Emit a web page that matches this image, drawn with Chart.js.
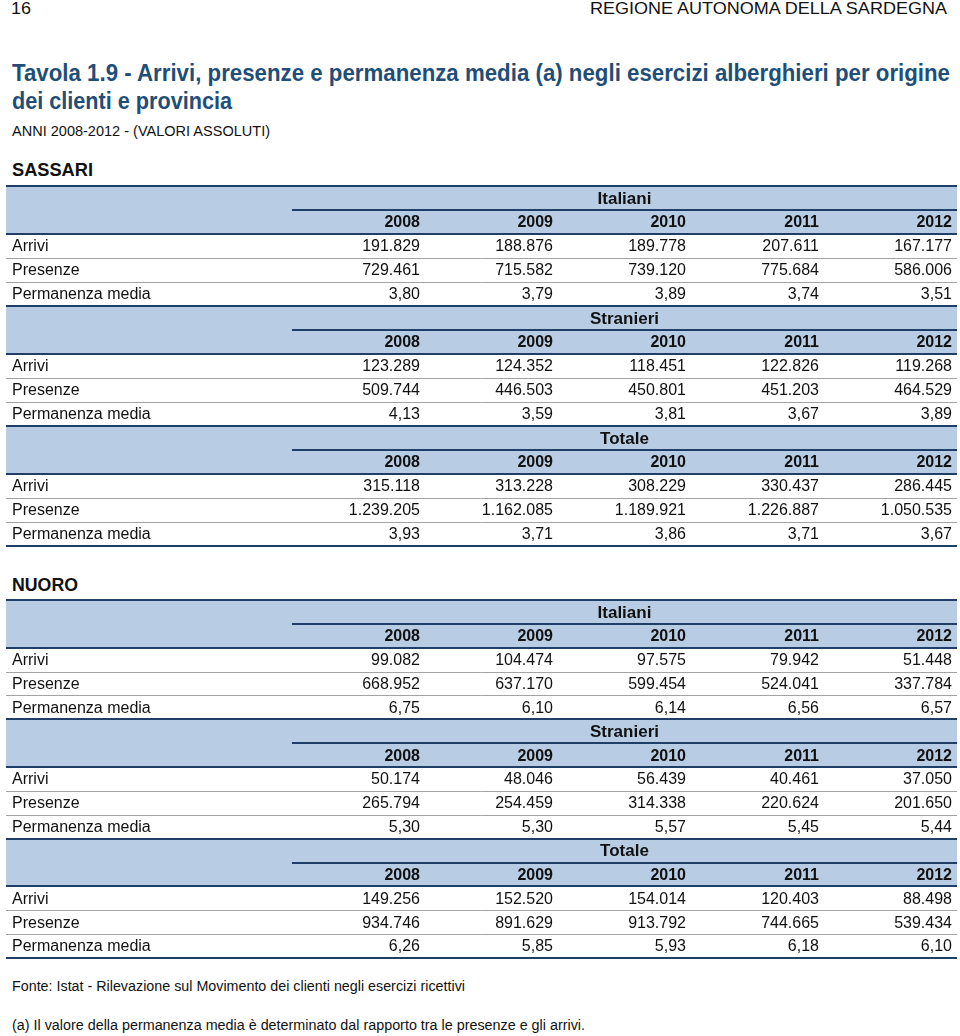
<!DOCTYPE html>
<html lang="it">
<head>
<meta charset="utf-8">
<title>Tavola 1.9 - Arrivi, presenze e permanenza media</title>
<script src="https://cdn.jsdelivr.net/npm/chart.js@4.4.1/dist/chart.umd.min.js"></script>
<style>
  body {
    margin: 0;
    width: 960px;
    height: 1036px;
    position: relative;
    background: #fff;
    color: #111;
    font-family: "Liberation Sans", Arial, sans-serif;
    overflow: hidden;
  }
  .t {
    position: absolute;
    white-space: nowrap;
    line-height: 1;
    transform-origin: 0 50%;
  }
  .dx { transform-origin: 100% 50%; }
  .titolo { color: #1f4e79; font-family: "Liberation Sans Narrow", "Liberation Sans", Arial, sans-serif; font-weight: bold; font-size: 23px; }
  .prov { font-weight: bold; font-size: 18px; }
  canvas { position: absolute; left: 4px; }
</style>
</head>
<body>

<span class="t" data-w="20" style="left:11px;top:0px;font-size:17px;">16</span>
<span class="t dx" data-w="357" style="right:13px;top:0px;font-size:17px;">REGIONE AUTONOMA DELLA SARDEGNA</span>

<span class="t titolo" data-w="938" style="left:12px;top:62px;">Tavola 1.9 - Arrivi, presenze e permanenza media (a) negli esercizi alberghieri per origine</span>
<span class="t titolo" data-w="220" style="left:12px;top:90px;">dei clienti e provincia</span>
<span class="t" data-w="258" style="left:12px;top:124px;font-size:14px;">ANNI 2008-2012 - (VALORI ASSOLUTI)</span>

<span class="t prov" data-w="81" style="left:12px;top:161px;">SASSARI</span>
<canvas id="sassari" width="955" height="364" style="top:184px;"></canvas>

<span class="t prov" data-w="66" style="left:12px;top:576px;">NUORO</span>
<canvas id="nuoro" width="955" height="362" style="top:598px;"></canvas>

<span class="t" data-w="453" style="left:12px;top:979px;font-size:14px;">Fonte: Istat - Rilevazione sul Movimento dei clienti negli esercizi ricettivi</span>
<span class="t" data-w="573" style="left:12px;top:1018px;font-size:14px;">(a) Il valore della permanenza media è determinato dal rapporto tra le presenze e gli arrivi.</span>

<script>
// ===== Dati =====
const anni = ["2008", "2009", "2010", "2011", "2012"];
const gruppi = ["Italiani", "Stranieri", "Totale"];
const voci = ["Arrivi", "Presenze", "Permanenza media"];

// righe: arrivi, presenze, permanenza media
const sassariItaliani = [
    [191829, 188876, 189778, 207611, 167177],
    [729461, 715582, 739120, 775684, 586006],
    [3.80, 3.79, 3.89, 3.74, 3.51]
];
const sassariStranieri = [
    [123289, 124352, 118451, 122826, 119268],
    [509744, 446503, 450801, 451203, 464529],
    [4.13, 3.59, 3.81, 3.67, 3.89]
];
const sassariTotale = [
    [315118, 313228, 308229, 330437, 286445],
    [1239205, 1162085, 1189921, 1226887, 1050535],
    [3.93, 3.71, 3.86, 3.71, 3.67]
];

const nuoroItaliani = [
    [99082, 104474, 97575, 79942, 51448],
    [668952, 637170, 599454, 524041, 337784],
    [6.75, 6.10, 6.14, 6.56, 6.57]
];
const nuoroStranieri = [
    [50174, 48046, 56439, 40461, 37050],
    [265794, 254459, 314338, 220624, 201650],
    [5.30, 5.30, 5.57, 5.45, 5.44]
];
const nuoroTotale = [
    [149256, 152520, 154014, 120403, 88498],
    [934746, 891629, 913792, 744665, 539434],
    [6.26, 5.85, 5.93, 6.18, 6.10]
];

// ===== Formattazione italiana =====
function fmtInt(n) {
    return String(n).replace(/\B(?=(\d{3})+(?!\d))/g, ".");
}
function fmtDec(n) {
    return n.toFixed(2).replace(".", ",");
}

const FONT = '"Liberation Sans", Arial, sans-serif';
const X_MIN = -2.15; // colonna delle voci, più larga
const RIGHE = 15;    // 3 blocchi x (2 intestazioni + 3 voci)

const BLU_FASCIA = "#b8cce4";
const BLU_LINEA = "#203f66";
const GRIGIO = "#a3a3a3";

// fasce e linee della tabella, prese dalle scale del grafico
const pluginTabella = {
    id: "tabella",
    beforeDatasetsDraw(chart) {
        const { ctx, chartArea: a, scales: { x, y } } = chart;
        const linea = (yv, x0, col, w) => {
            const py = Math.round(y.getPixelForValue(yv)) + (w % 2 ? 0.5 : 0);
            ctx.strokeStyle = col;
            ctx.lineWidth = w;
            ctx.beginPath();
            ctx.moveTo(x0, py);
            ctx.lineTo(a.right, py);
            ctx.stroke();
        };
        ctx.save();
        gruppi.forEach((g, i) => {
            const r0 = i * 5;
            const top = y.getPixelForValue(r0);
            const bot = y.getPixelForValue(r0 + 2);
            ctx.fillStyle = BLU_FASCIA;
            ctx.fillRect(a.left, top, a.right - a.left, bot - top);
            linea(r0 + 3, a.left, GRIGIO, 1);
            linea(r0 + 4, a.left, GRIGIO, 1);
            linea(r0, a.left, BLU_LINEA, 2);
            linea(r0 + 1, x.getPixelForValue(0), BLU_LINEA, 2);
            linea(r0 + 2, a.left, BLU_LINEA, 2);
        });
        linea(RIGHE, a.left, BLU_LINEA, 2);
        ctx.restore();
    },
    afterDatasetsDraw(chart) {
        const ctx = chart.ctx;
        ctx.save();
        ctx.fillStyle = "#111";
        ctx.textBaseline = "middle";
        chart.data.datasets.forEach((ds, i) => {
            ctx.font = ds.font;
            ctx.textAlign = ds.align;
            chart.getDatasetMeta(i).data.forEach((el, j) => {
                ctx.fillText(ds.data[j].t, el.x + ds.dx, el.y + 1);
            });
        });
        ctx.restore();
    }
};

function creaTabella(idCanvas, blocchi) {
    const intestGruppi = [], intestAnni = [], etichette = [], valori = [];
    blocchi.forEach((righe, g) => {
        const r0 = g * 5;
        intestGruppi.push({ x: 2.5, y: r0 + 0.5, t: gruppi[g] });
        anni.forEach((a, c) => intestAnni.push({ x: c + 1, y: r0 + 1.5, t: a }));
        voci.forEach((v, r) => {
            etichette.push({ x: X_MIN, y: r0 + 2.5 + r, t: v });
            righe[r].forEach((val, c) => {
                valori.push({ x: c + 1, y: r0 + 2.5 + r, t: r === 2 ? fmtDec(val) : fmtInt(val) });
            });
        });
    });

    const base = { pointRadius: 0, pointHoverRadius: 0, showLine: false };
    return new Chart(document.getElementById(idCanvas), {
        type: "scatter",
        data: {
            datasets: [
                { ...base, label: "gruppi", data: intestGruppi, font: "bold 17px " + FONT, align: "center", dx: 0 },
                { ...base, label: "anni", data: intestAnni, font: "bold 16px " + FONT, align: "right", dx: -5 },
                { ...base, label: "voci", data: etichette, font: "16px " + FONT, align: "left", dx: 6 },
                { ...base, label: "valori", data: valori, font: "16px " + FONT, align: "right", dx: -5 }
            ]
        },
        options: {
            responsive: false,
            animation: false,
            events: [],
            layout: { padding: { left: 2, right: 2, top: 2, bottom: 2 } },
            plugins: {
                legend: { display: false },
                tooltip: { enabled: false }
            },
            scales: {
                x: { type: "linear", display: false, min: X_MIN, max: 5 },
                y: { type: "linear", display: false, reverse: true, min: 0, max: RIGHE }
            }
        },
        plugins: [pluginTabella]
    });
}

creaTabella("sassari", [sassariItaliani, sassariStranieri, sassariTotale]);
creaTabella("nuoro", [nuoroItaliani, nuoroStranieri, nuoroTotale]);

// adatta la larghezza dei testi a quella dell'originale
function adatta() {
    document.querySelectorAll(".t[data-w]").forEach(el => {
        el.style.transform = "";
        const w = el.getBoundingClientRect().width;
        const target = Number(el.dataset.w);
        if (w > 0) el.style.transform = "scaleX(" + (target / w).toFixed(4) + ")";
    });
}
adatta();
if (document.fonts) document.fonts.ready.then(adatta);
</script>
</body>
</html>
